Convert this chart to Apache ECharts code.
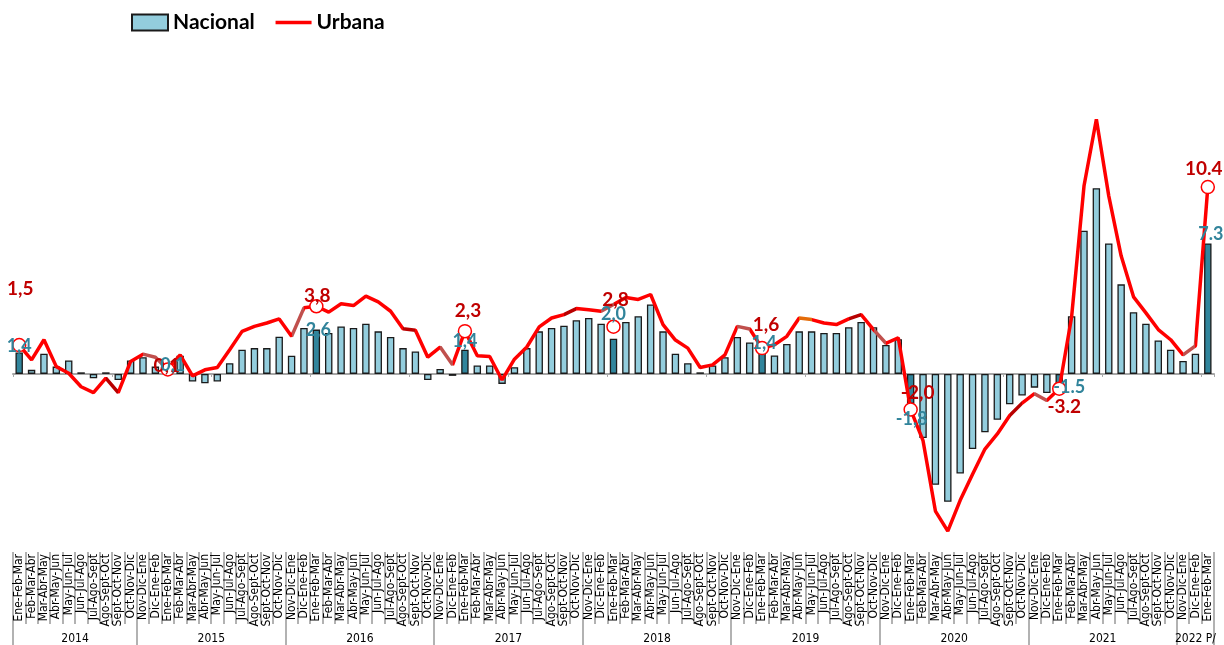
<!DOCTYPE html>
<html><head><meta charset="utf-8">
<script src="https://cdn.jsdelivr.net/npm/echarts@6/dist/echarts.min.js"></script>
<style>html,body{margin:0;padding:0;background:#fff}#c{width:1224px;height:645px}</style>
</head><body><div id="c"></div>
<script>
// ---------- DATA ----------
const quarterNames = ['Nov-Dic-Ene','Dic-Ene-Feb','Ene-Feb-Mar','Feb-Mar-Abr','Mar-Abr-May','Abr-May-Jun','May-Jun-Jul','Jun-Jul-Ago','Jul-Ago-Sept','Ago-Sept-Oct','Sept-Oct-Nov','Oct-Nov-Dic'];
const years = ['2014','2015','2016','2017','2018','2019','2020','2021','2022 P/'];
const yearFirstQuarter = [2,0,0,0,0,0,0,0,0];
const yearLastQuarter  = [11,11,11,11,11,11,11,11,2];

const nacional = [
  1.2,0.23,1.13,0.41,0.75,0.09,-0.24,0.09,-0.34,0.75,
  0.94,0.41,0.1,1.02,-0.43,-0.53,-0.43,0.6,1.36,1.45,1.45,2.09,
  1.02,2.58,2.49,2.3,2.67,2.58,2.82,2.39,2.07,1.45,1.26,-0.34,
  0.28,-0.11,1.36,0.47,0.47,-0.56,0.38,1.45,2.39,2.58,2.71,3.01,
  3.14,2.82,1.98,2.92,3.24,3.9,2.39,1.13,0.6,0.09,0.47,0.94,
  2.07,1.77,1.3,1.04,1.68,2.39,2.39,2.3,2.3,2.62,2.92,2.62,
  1.63,1.95,-1.68,-3.6,-6.23,-7.18,-5.59,-4.22,-3.28,-2.58,-1.71,-1.21,
  -0.77,-1.07,-1.02,3.24,8.04,10.43,7.33,5.03,3.47,2.82,1.88,1.36,
  0.73,1.13,7.33
];
const urbana = [
  1.62,0.79,1.92,0.41,0.04,-0.72,-1.05,-0.24,-1.05,0.7,
  1.11,0.94,0.25,1.07,-0.11,0.23,0.36,1.36,2.39,2.67,2.86,3.09,
  2.11,3.71,3.8,3.47,3.94,3.84,4.37,4.05,3.52,2.54,2.45,0.94,
  1.51,0.51,2.4,1.02,0.98,-0.34,0.83,1.51,2.64,3.14,3.33,3.67,
  3.6,3.52,3.9,4.29,4.18,4.46,2.77,1.9,1.45,0.36,0.51,1.07,
  2.67,2.52,1.45,1.64,2.11,3.14,3.05,2.86,2.77,3.09,3.33,2.49,
  1.72,2.03,-2.0,-3.75,-7.7,-8.83,-7.1,-5.63,-4.22,-3.37,-2.34,-1.64,
  -1.11,-1.49,-0.83,3.2,10.55,14.3,10.0,6.63,4.33,3.43,2.49,1.92,
  1.07,1.58,10.49
];
// highlighted points (Ene-Feb-Mar of each year)
const markIndex     = [0,12,24,36,48,60,72,84,96];
const urbanaMarks   = [1.62,0.25,3.8,2.4,2.65,1.45,-2.0,-0.83,10.49];
const urbanaLabels  = ['1,5','0,1','3,8','2,3','2,8','1,6','-2,0','-3.2','10.4'];
const nacionalLabels= ['1,4','0,1','2,6','1,4','2,0','1,4','-1,8','-1.5','7.3'];
const darkBars      = [0,24,36,48,60,72,84,96];

// ---------- LAYOUT / STYLE ----------
const redLabelOffset  = [[1,-56],[-1,-4],[1,-10],[3,-20],[2,-27],[4,-23],[7,-17],[5,18],[-4,-18]];
const tealLabelOffset = [[0,-6],[5,-7],[2,1],[0,-9],[0,-24],[2,-8],[1,15],[10,-5],[3,-9]];
// off-colour line segments seen in the original (index ranges)
const DARK = '#B80000', BROWN = '#C0504D', ORANGE = '#E46C0A';
const lineSegments = [
  [7,8,DARK],[10,12,BROWN],[22,23,BROWN],[31,32,DARK],[34,35,BROWN],[44,45,DARK],
  [47,48,BROWN],[58,59,BROWN],[63,63.5,ORANGE],[67,68,DARK],[69,70,BROWN],
  [80,81,DARK],[82,83,BROWN],[94,95,BROWN]
];

// build categories
const categories = [];
const yearStart = [], yearCount = [];
years.forEach((y, g) => {
  yearStart.push(categories.length);
  for (let q = yearFirstQuarter[g]; q <= yearLastQuarter[g]; q++) categories.push(quarterNames[q]);
  yearCount.push(categories.length - yearStart[g]);
});
const yearLabelIdx = yearStart.map((s, g) => s + Math.floor(yearCount[g] / 2));

const narrow = "'Liberation Sans Narrow','DejaVu Sans Condensed','Liberation Sans',sans-serif";
const lato = "Lato,'Noto Sans',sans-serif";

const barData = nacional.map((v, i) => darkBars.includes(i)
  ? {value: v, itemStyle: {color: '#31859C'}} : v);

const option = {
  animation: false,
  backgroundColor: '#fff',
  legend: {
    left: 126, top: 7, itemWidth: 36, itemHeight: 16, itemGap: 19,
    textStyle: {fontFamily: lato, fontWeight: 'bold', fontSize: 21, color: '#000'},
    data: [
      {name: 'Nacional', icon: 'rect'},
      {name: 'Urbana', itemStyle: {opacity: 0}, lineStyle: {color: '#FF0000', width: 3.5}}
    ]
  },
  visualMap: {
    show: false, type: 'piecewise', seriesIndex: 1, dimension: 0,
    pieces: lineSegments.map(s => ({gte: s[0], lte: s[1], color: s[2]})),
    outOfRange: {color: '#FF0000'}
  },
  grid: {left: 13, right: 10, top: 89, bottom: 93},
  xAxis: [
    { type: 'category', data: categories, position: 'bottom',
      axisLine: {onZero: true, lineStyle: {color: '#A6A6A6', width: 2}},
      axisTick: {show: true, length: 3, lineStyle: {color: '#A6A6A6'}},
      axisLabel: {show: false}, splitLine: {show: false} },
    { type: 'category', data: categories, position: 'bottom',
      axisLine: {show: false, onZero: false},
      axisTick: {show: true, length: 72, interval: 0, lineStyle: {color: '#999', width: 1.5}},
      axisLabel: {show: true, interval: 0, rotate: 90, margin: 2, fontSize: 12,
                  fontFamily: narrow, color: '#000'} },
    { type: 'category', data: categories, position: 'bottom',
      axisLine: {show: false, onZero: false},
      axisTick: {show: true, length: 93, interval: (i) => yearStart.includes(i),
                 lineStyle: {color: '#999', width: 1.5}},
      axisLabel: {show: true, margin: 81, fontSize: 12, fontFamily: narrow, color: '#000',
        interval: (i) => yearLabelIdx.includes(i),
        formatter: (val, i) => {
          const g = yearLabelIdx.indexOf(i);
          if (g < 0) return '';
          return yearCount[g] % 2 === 0 ? '{e|' + years[g] + '}' : '{o|' + years[g] + '}';
        },
        rich: {
          e: {padding: [0, 12, 0, 0], fontSize: 12, fontFamily: narrow, color: '#000'},
          o: {fontSize: 12, fontFamily: narrow, color: '#000'}
        }
      } }
  ],
  yAxis: {type: 'value', min: -10, max: 16, show: false, splitLine: {show: false}},
  series: [
    { name: 'Nacional', type: 'bar', data: barData, barWidth: '60%', z: 2,
      itemStyle: {color: '#93CDDD', borderColor: '#1a1a1a', borderWidth: 1.3} },
    { name: 'Urbana', type: 'line', data: urbana, symbol: 'none', z: 3,
      itemStyle: {color: '#FF0000'},
      lineStyle: {width: 3.5} },
    { name: 'UrbanaMarks', type: 'scatter', z: 4, symbol: 'circle', symbolSize: 13,
      itemStyle: {color: '#fff', borderColor: '#FF0000', borderWidth: 1.5, opacity: 1},
      data: markIndex.map((idx, k) => ({
        value: [idx, urbanaMarks[k]],
        label: {show: true, position: 'inside', offset: redLabelOffset[k],
                formatter: urbanaLabels[k], color: '#C00000', fontFamily: lato,
                fontWeight: 'bold', fontSize: 19}
      })) },
    { name: 'NacionalMarks', type: 'scatter', z: 5, symbol: 'circle', symbolSize: 1,
      itemStyle: {color: 'rgba(0,0,0,0)', opacity: 1},
      data: markIndex.map((idx, k) => ({
        value: [idx, nacional[idx]],
        label: {show: true, position: 'inside', offset: tealLabelOffset[k],
                formatter: nacionalLabels[k], color: '#31849B', fontFamily: lato,
                fontWeight: 'bold', fontSize: 18}
      })) }
  ]
};
const chart = echarts.init(document.getElementById('c'), null, {renderer: 'canvas'});
chart.setOption(option);
</script>
</body></html>
